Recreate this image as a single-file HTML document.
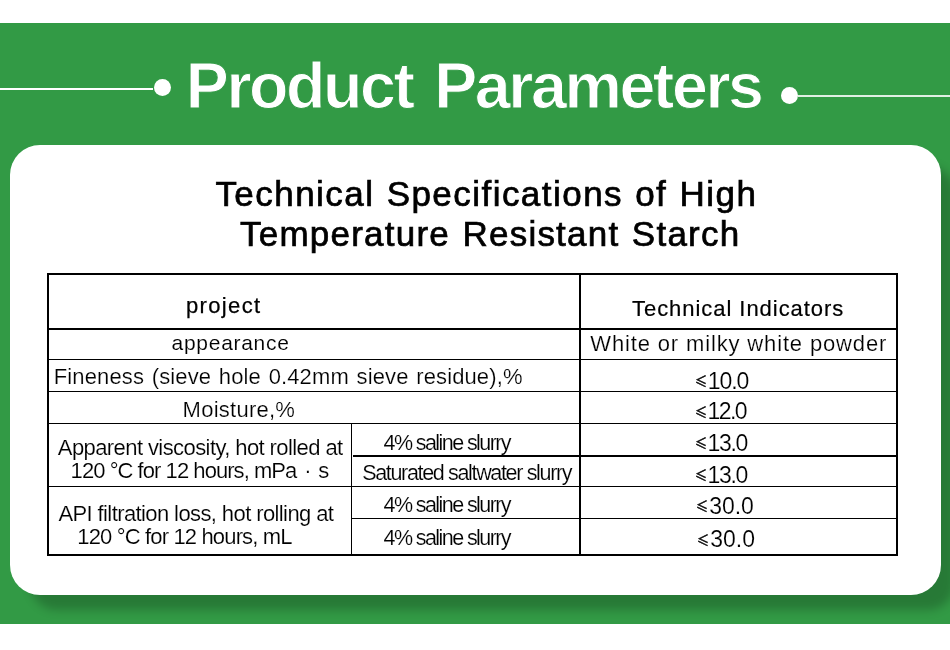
<!DOCTYPE html>
<html lang="en">
<head>
<meta charset="utf-8">
<title>Product Parameters</title>
<style>
html,body{margin:0;padding:0;background:#fff;}
body{width:950px;height:650px;position:relative;overflow:hidden;font-family:"Liberation Sans",sans-serif;}
.band{position:absolute;left:0;top:23px;width:950px;height:601px;background:#329a45;}
.card{position:absolute;left:10px;top:145px;width:931px;height:450px;background:#fff;border-radius:30px;box-shadow:17px 18px 10px -3px rgba(0,0,0,0.21);}
.ln{position:absolute;background:#fff;}
.dot{position:absolute;width:17px;height:17px;border-radius:50%;background:#fff;}
.t{position:absolute;white-space:pre;line-height:1;margin:0;font-weight:400;color:#000;}
.r{position:absolute;background:#000;}
.le{position:absolute;font-family:"Noto Sans CJK SC","Liberation Sans",sans-serif;font-size:13.5px;line-height:1;letter-spacing:0;-webkit-text-stroke:0.4px #000;transform:scale(0.9,1.06);transform-origin:0 0;}

</style>
</head>
<body>
<div class="band"></div>
<div class="ln" style="left:0;top:88px;width:153px;height:2px;"></div>
<div class="dot" style="left:154px;top:78.5px;"></div>
<div class="dot" style="left:781px;top:86.8px;"></div>
<div class="ln" style="left:798px;top:95px;width:152px;height:2px;opacity:.85;"></div>
<div class="card"></div>
<div class="tbl">
<div class="r" style="left:47px;top:273px;width:851px;height:2px;"></div>
<div class="r" style="left:47px;top:553.5px;width:851px;height:2px;"></div>
<div class="r" style="left:47px;top:273px;width:2px;height:282px;"></div>
<div class="r" style="left:896px;top:273px;width:2px;height:282px;"></div>
<div class="r" style="left:579px;top:273px;width:2px;height:282px;"></div>
<div class="r" style="left:47px;top:328px;width:851px;height:2px;"></div>
<div class="r" style="left:47px;top:359px;width:851px;height:1.3px;"></div>
<div class="r" style="left:47px;top:391px;width:851px;height:1.3px;"></div>
<div class="r" style="left:47px;top:423px;width:851px;height:1.3px;"></div>
<div class="r" style="left:353px;top:455px;width:545px;height:2px;"></div>
<div class="r" style="left:47px;top:486px;width:851px;height:1.3px;"></div>
<div class="r" style="left:351px;top:518px;width:547px;height:1.3px;"></div>
<div class="r" style="left:350.8px;top:423px;width:1.3px;height:132px;"></div>
</div>
<h1 class="t" style="left:185.80px;top:54px;font-size:64.5px;letter-spacing:-2.402px;font-weight:700;color:#fff;word-spacing:6px;-webkit-text-stroke:1px #329a45;">Product Parameters</h1>
<h2 class="t" style="left:215.40px;top:176px;font-size:35px;letter-spacing:1.460px;word-spacing:1px;-webkit-text-stroke:0.7px #000;">Technical Specifications of High</h2>
<h2 class="t" style="left:240.00px;top:216px;font-size:35px;letter-spacing:1.229px;word-spacing:1.5px;-webkit-text-stroke:0.7px #000;">Temperature Resistant Starch</h2>
<div class="t" style="left:186.00px;top:295px;font-size:22px;letter-spacing:1.347px;-webkit-text-stroke:0.25px #000;">project</div>
<div class="t" style="left:632.00px;top:298px;font-size:22px;letter-spacing:0.952px;-webkit-text-stroke:0.2px #000;">Technical Indicators</div>
<div class="t" style="left:171.60px;top:332px;font-size:21px;letter-spacing:0.706px;-webkit-text-stroke:0.12px #fff;">appearance</div>
<div class="t" style="left:590.30px;top:333px;font-size:22px;letter-spacing:0.852px;-webkit-text-stroke:0.2px #fff;">White or milky white powder</div>
<div class="t" style="left:53.80px;top:366px;font-size:22px;letter-spacing:0.118px;word-spacing:1.5px;-webkit-text-stroke:0.2px #fff;">Fineness (sieve hole 0.42mm sieve residue),%</div>
<div class="t" style="left:707.80px;top:370px;font-size:23px;letter-spacing:-1.058px;-webkit-text-stroke:0.15px #fff;"><span class="le" style="left:-12.80px;top:4.10px;">≤</span>10.0</div>
<div class="t" style="left:182.60px;top:399px;font-size:22px;letter-spacing:0.248px;-webkit-text-stroke:0.2px #fff;">Moisture,%</div>
<div class="t" style="left:707.50px;top:400px;font-size:23px;letter-spacing:-1.591px;-webkit-text-stroke:0.15px #fff;"><span class="le" style="left:-12.90px;top:4.60px;">≤</span>12.0</div>
<div class="t" style="left:57.80px;top:437px;font-size:22px;letter-spacing:-0.583px;-webkit-text-stroke:0.15px #fff;">Apparent viscosity, hot rolled at</div>
<div class="t" style="left:70.60px;top:460px;font-size:22px;letter-spacing:-0.945px;-webkit-text-stroke:0.15px #fff;">120 °C for 12 hours, mPa<span style="word-spacing:2.6px"> · </span>s</div>
<div class="t" style="left:383.50px;top:433px;font-size:21.5px;letter-spacing:-1.580px;-webkit-text-stroke:0.15px #fff;">4% saline slurry</div>
<div class="t" style="left:362.20px;top:463px;font-size:21.5px;letter-spacing:-1.337px;-webkit-text-stroke:0.15px #fff;">Saturated saltwater slurry</div>
<div class="t" style="left:707.60px;top:432px;font-size:23px;letter-spacing:-1.324px;-webkit-text-stroke:0.15px #fff;"><span class="le" style="left:-12.60px;top:4.40px;">≤</span>13.0</div>
<div class="t" style="left:707.60px;top:464px;font-size:23px;letter-spacing:-1.324px;-webkit-text-stroke:0.15px #fff;"><span class="le" style="left:-12.60px;top:4.30px;">≤</span>13.0</div>
<div class="t" style="left:58.40px;top:503px;font-size:22px;letter-spacing:-0.600px;-webkit-text-stroke:0.15px #fff;">API filtration loss, hot rolling at</div>
<div class="t" style="left:77.30px;top:526px;font-size:22px;letter-spacing:-0.844px;-webkit-text-stroke:0.15px #fff;">120 °C for 12 hours, mL</div>
<div class="t" style="left:383.50px;top:495px;font-size:21.5px;letter-spacing:-1.580px;-webkit-text-stroke:0.15px #fff;">4% saline slurry</div>
<div class="t" style="left:383.50px;top:528px;font-size:21.5px;letter-spacing:-1.580px;-webkit-text-stroke:0.15px #fff;">4% saline slurry</div>
<div class="t" style="left:709.20px;top:495px;font-size:23px;letter-spacing:-0.058px;-webkit-text-stroke:0.15px #fff;"><span class="le" style="left:-13.30px;top:4.30px;">≤</span>30.0</div>
<div class="t" style="left:710.20px;top:528px;font-size:23px;letter-spacing:0.009px;-webkit-text-stroke:0.15px #fff;"><span class="le" style="left:-13.00px;top:4.50px;">≤</span>30.0</div>
</body>
</html>
